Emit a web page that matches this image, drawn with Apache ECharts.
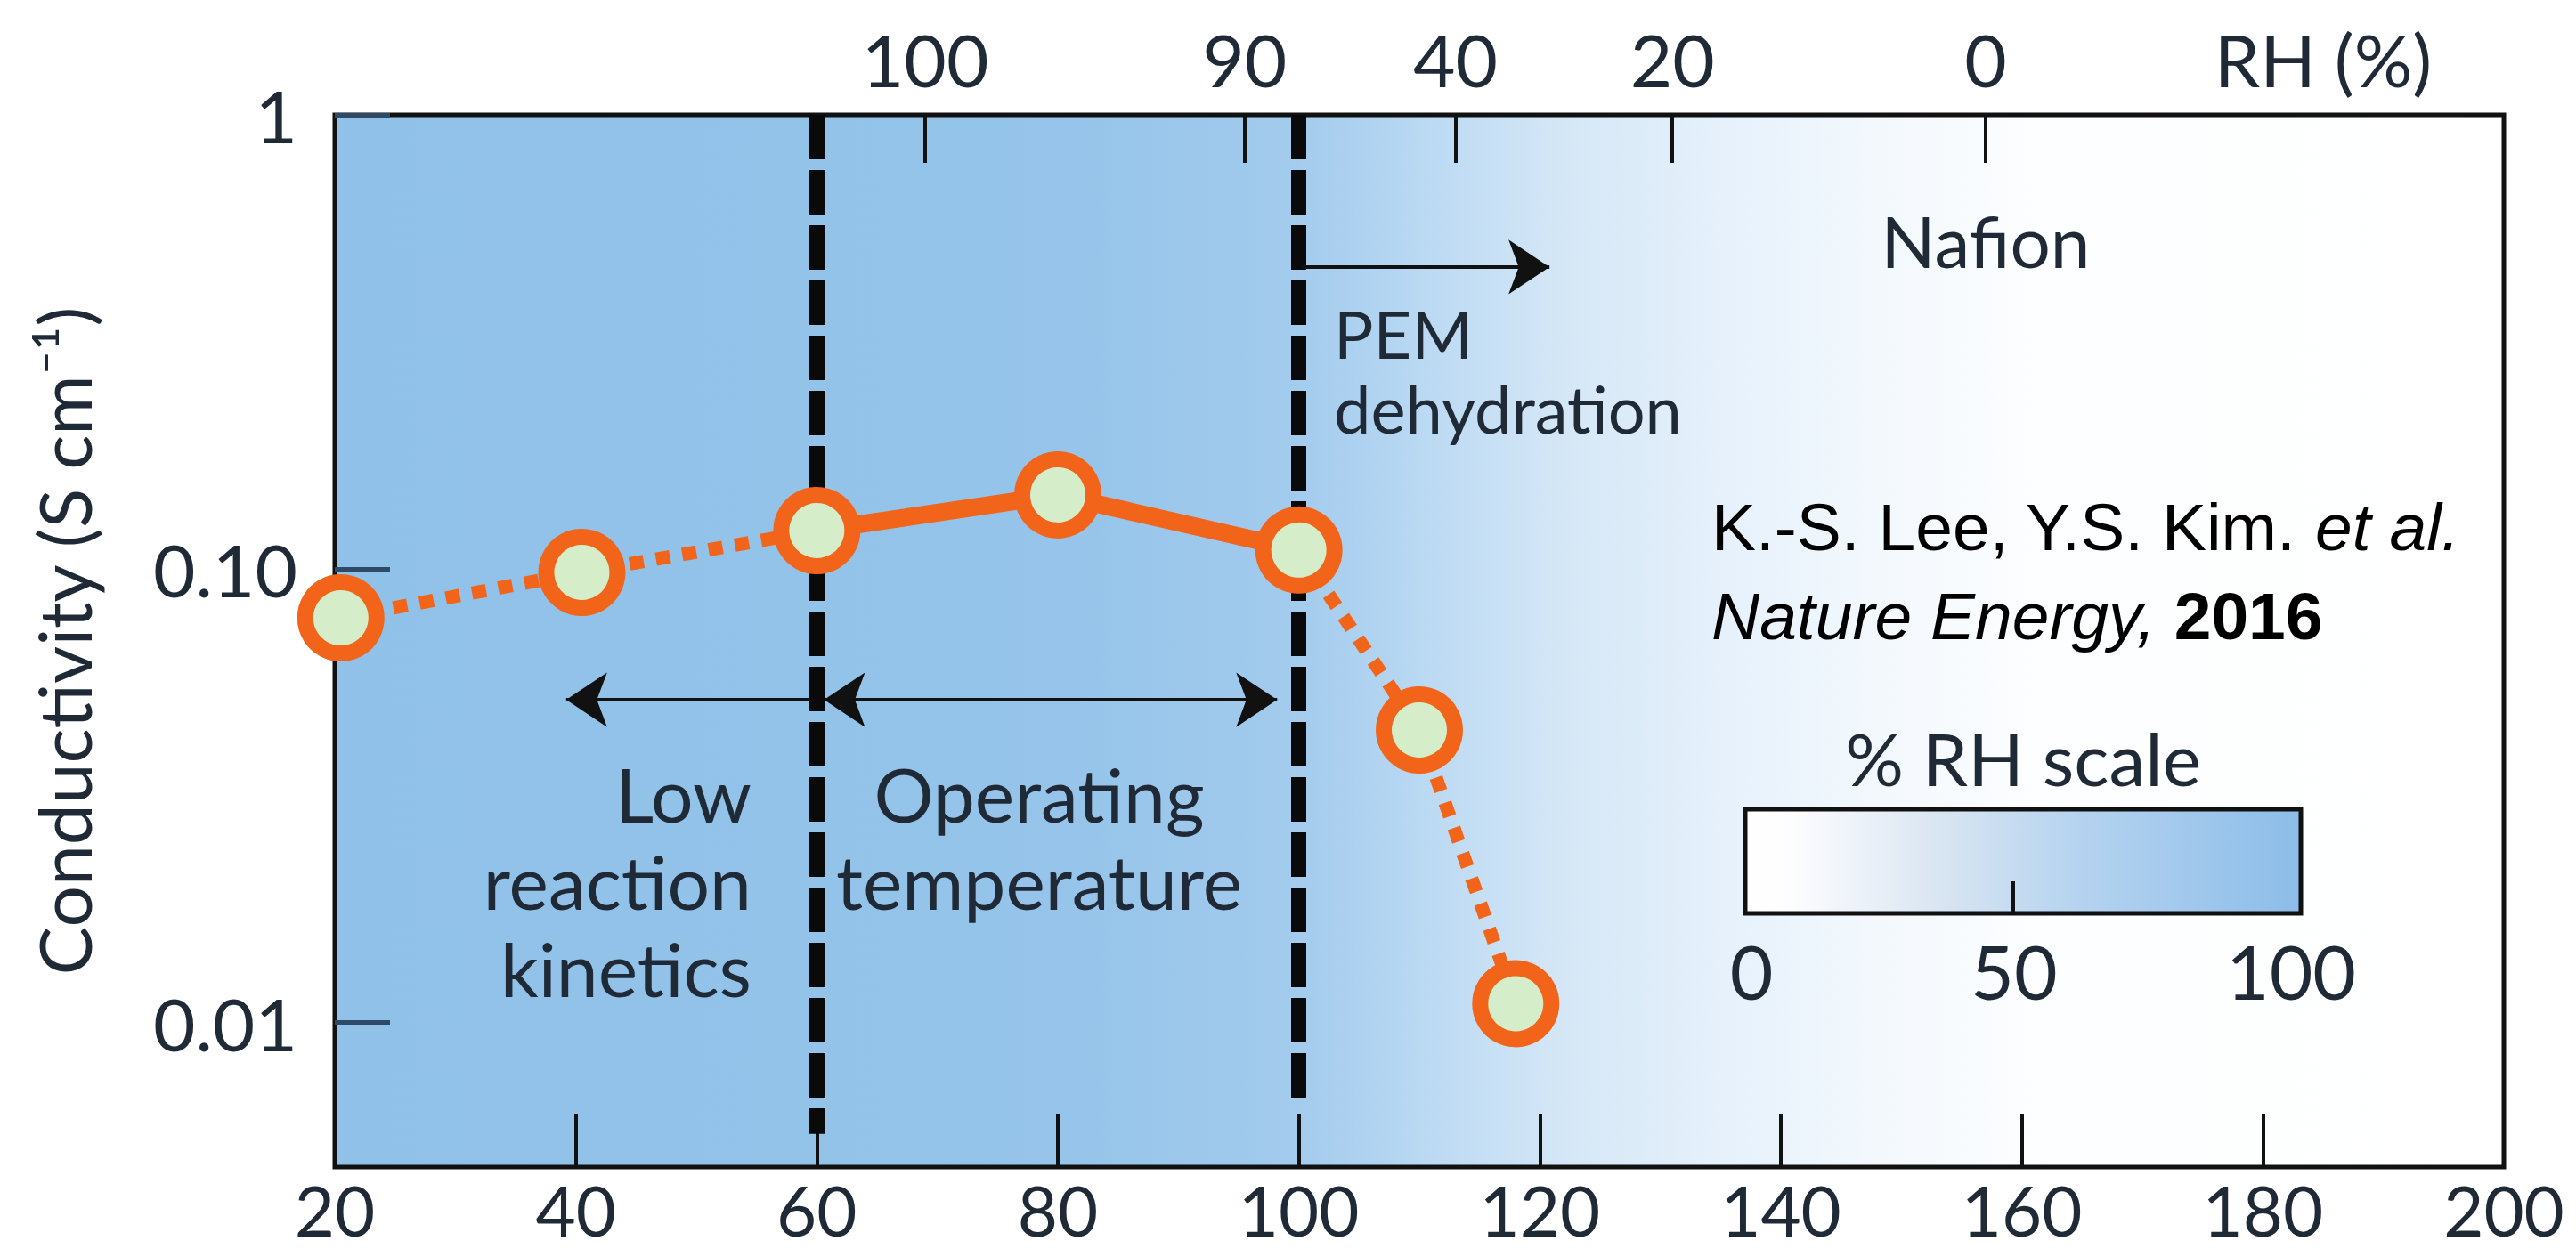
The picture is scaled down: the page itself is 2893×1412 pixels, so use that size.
<!DOCTYPE html>
<html><head><meta charset="utf-8">
<script src="https://cdn.jsdelivr.net/npm/echarts@6/dist/echarts.min.js"></script>
<style>html,body{margin:0;padding:0;background:#fff}#c{width:2893px;height:1412px}</style>
</head><body><div id="c"></div>
<script>
// ---------------- data ----------------
const temperature  = [20.5, 40.5, 60, 80, 100, 110, 118];          // °C
const conductivity = [0.0779, 0.0981, 0.1213, 0.1454, 0.1099, 0.0441, 0.0110]; // S cm^-1
const lowKineticsIdx = [0, 1, 2];   // dotted segment
const operatingIdx   = [2, 3, 4];   // solid segment
const dehydrationIdx = [4, 5, 6];   // dotted segment

const xMin = 20, xMax = 200, xStep = 20;
const yMin = 0.0048, yMax = 1;
const yTickValues = [0.01, 0.1, 1];
const yTickLabels = ['0.01', '0.10', '1'];

const rhTickTemps  = [69, 95.5, 113, 131, 157];
const rhTickLabels = ['100', '90', '40', '20', '0'];
const rhTitleTemp  = 185;
const rhTitle      = 'RH (%)';

const phaseBoundaries = [60, 100];
const boundaryEnds    = [0.00568, 0.00647];
const rhScaleLabels   = ['0', '50', '100'];

// ---------------- styles ----------------
const TXT = '#1f2a36';
const FONT = 'Lato, "Open Sans", sans-serif';
const CITE = '"Liberation Sans", Arial, sans-serif';
const ORANGE = '#f26419';

function pts(idx) { return idx.map(i => [temperature[i], conductivity[i]]); }

const arrowY = 0.0514, pemArrowY = 0.462;

const chart = echarts.init(document.getElementById('c'), null, {renderer: 'svg', width: 2893, height: 1412});

function label(x, y, text, size, align, lh) {
  return {type: 'text', x: x, y: y, style: {text: text, fontSize: size, fontFamily: FONT, fill: TXT,
    align: align, verticalAlign: 'middle', lineHeight: lh || size}};
}

const option = {
  animation: false,
  backgroundColor: '#ffffff',
  grid: {
    left: 376, right: 81, top: 129, bottom: 101,
    show: true, borderWidth: 5, borderColor: '#111',
    backgroundColor: {
      type: 'linear', x: 0, y: 0, x2: 1, y2: 0,
      colorStops: [
        {offset: 0, color: '#90c1e8'},
        {offset: 0.222, color: '#93c3e9'},
        {offset: 0.34, color: '#96c4ea'},
        {offset: 0.44, color: '#a2cbed'},
        {offset: 0.483, color: '#b2d4f1'},
        {offset: 0.506, color: '#bcdaf3'},
        {offset: 0.567, color: '#d5e7f6'},
        {offset: 0.65, color: '#e8f2fc'},
        {offset: 0.72, color: '#f4f9fd'},
        {offset: 0.79, color: '#fdfeff'},
        {offset: 1, color: '#ffffff'}
      ]
    }
  },
  xAxis: [{
    type: 'value', min: xMin, max: xMax, interval: xStep, position: 'bottom',
    axisLine: {show: false},
    axisTick: {inside: true, length: 60, lineStyle: {color: '#111', width: 4}},
    axisLabel: {fontSize: 78, lineHeight: 78, color: TXT, fontFamily: FONT, margin: 9, showMinLabel: true, showMaxLabel: true},
    splitLine: {show: false}
  }, {
    type: 'value', min: xMin, max: xMax, position: 'top',
    axisLine: {show: false},
    axisTick: {inside: true, length: 54, lineStyle: {color: '#111', width: 4}, customValues: rhTickTemps},
    axisLabel: {
      fontSize: 82, color: TXT, fontFamily: FONT, margin: 22,
      customValues: rhTickTemps.concat([rhTitleTemp]),
      formatter: v => { const i = rhTickTemps.indexOf(v); return i >= 0 ? rhTickLabels[i] : (v === rhTitleTemp ? rhTitle : ''); }
    },
    splitLine: {show: false}
  }],
  yAxis: {
    type: 'log', logBase: 10, min: yMin, max: yMax,
    axisLine: {show: false},
    axisTick: {inside: true, length: 62, lineStyle: {color: '#2e4a66', width: 5}},
    axisLabel: {
      fontSize: 82, color: TXT, fontFamily: FONT, margin: 42, showMaxLabel: true, showMinLabel: false,
      formatter: v => { for (let i = 0; i < yTickValues.length; i++) if (Math.abs(Math.log10(v) - Math.log10(yTickValues[i])) < 1e-6) return yTickLabels[i]; return ''; }
    },
    splitLine: {show: false},
    name: 'Conductivity (S cm⁻¹)', nameLocation: 'middle', nameGap: 264, nameRotate: 90,
    nameTextStyle: {fontSize: 82, color: TXT, fontFamily: FONT}
  },
  series: [
    {
      type: 'line', data: [], z: 1, silent: true,
      markLine: {
        silent: true, symbol: ['none', 'none'], label: {show: false},
        lineStyle: {color: '#0a0a0a', width: 17, type: [50, 12], cap: 'butt'},
        data: phaseBoundaries.map((b, i) => [{coord: [b, yMax]}, {coord: [b, boundaryEnds[i]]}])
      }
    },
    {
      type: 'line', data: [], z: 2, silent: true,
      markLine: {
        silent: true, label: {show: false}, symbolSize: 46,
        lineStyle: {color: '#111', width: 4, type: 'solid'},
        data: [
          [{coord: [59.5, arrowY], symbol: 'none'}, {coord: [39.2, arrowY], symbol: 'arrow'}],
          [{coord: [60.6, arrowY], symbol: 'arrow'}, {coord: [98.2, arrowY], symbol: 'arrow'}],
          [{coord: [100.2, pemArrowY], symbol: 'none'}, {coord: [120.8, pemArrowY], symbol: 'arrow'}]
        ]
      }
    },
    {type: 'line', data: pts(lowKineticsIdx), z: 3, symbol: 'none', silent: true,
     lineStyle: {color: ORANGE, width: 15, type: [16, 14], cap: 'butt'}},
    {type: 'line', data: pts(operatingIdx), z: 3, symbol: 'none', silent: true,
     lineStyle: {color: ORANGE, width: 20, type: 'solid'}},
    {type: 'line', data: pts(dehydrationIdx), z: 3, symbol: 'none', silent: true,
     lineStyle: {color: ORANGE, width: 15, type: [16, 14], cap: 'butt'}},
    {type: 'scatter', z: 5, silent: true, symbol: 'circle', symbolSize: 80,
     data: temperature.map((t, i) => [t, conductivity[i]]),
     itemStyle: {color: '#d6edc9', borderColor: ORANGE, borderWidth: 18, opacity: 1}}
  ],
  graphic: [
    label(844, 989, 'Low\nreaction\nkinetics', 84, 'right', 98),
    label(1167, 940, 'Operating\ntemperature', 84, 'center', 98),
    label(1498, 374, 'PEM', 74, 'left', 74),
    label(1498, 458, 'dehydration', 74, 'left', 74),
    label(2230, 270, 'Nafion', 80, 'center'),
    {type: 'text', x: 1922, y: 592, style: {
      text: 'K.-S. Lee, Y.S. Kim. {i|et al.}', fontSize: 75, fontFamily: CITE, fill: '#000', align: 'left', verticalAlign: 'middle', lineHeight: 80,
      rich: {i: {fontStyle: 'italic', fontSize: 75, fontFamily: CITE, fill: '#000', lineHeight: 80}}}},
    {type: 'text', x: 1922, y: 692, style: {
      text: '{i|Nature Energy,} {b|2016}', fontSize: 75, fontFamily: CITE, fill: '#000', align: 'left', verticalAlign: 'middle', lineHeight: 80,
      rich: {i: {fontStyle: 'italic', fontSize: 75, fontFamily: CITE, fill: '#000', lineHeight: 80},
             b: {fontWeight: 'bold', fontSize: 75, fontFamily: CITE, fill: '#000', lineHeight: 80}}}},
    label(2272, 851, '% RH scale', 82, 'center'),
    {type: 'rect', shape: {x: 1960, y: 909, width: 624, height: 117}, style: {
      fill: {type: 'linear', x: 0, y: 0, x2: 1, y2: 0, colorStops: [
        {offset: 0, color: '#ffffff'}, {offset: 0.08, color: '#fdfdff'}, {offset: 0.35, color: '#d9e5f2'},
        {offset: 0.6, color: '#b5d3f0'}, {offset: 1, color: '#8cbde8'}]},
      stroke: '#111', lineWidth: 5}},
    {type: 'line', shape: {x1: 2261, y1: 990, x2: 2261, y2: 1026}, style: {stroke: '#111', lineWidth: 4}},
    label(1967, 1090, rhScaleLabels[0], 84, 'center'),
    label(2262, 1090, rhScaleLabels[1], 84, 'center'),
    label(2573, 1090, rhScaleLabels[2], 84, 'center')
  ]
};
chart.setOption(option);
</script></body></html>
